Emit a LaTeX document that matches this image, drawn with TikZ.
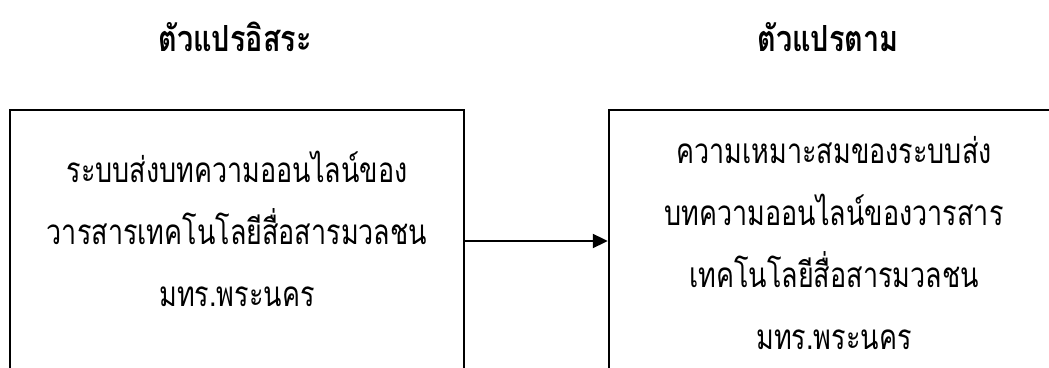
\documentclass[tikz,border=0pt]{standalone}
\usepackage{fontspec}
\newfontfamily\thaifont[Script=Thai, FakeStretch=0.77]{Loma}
\newfontfamily\thaihead[Script=Thai, FakeStretch=0.8]{Loma}
\usetikzlibrary{arrows.meta,positioning}
\tikzset{
  varbox/.style={draw, line width=2.4pt, minimum width=454pt, minimum height=262pt, inner sep=0pt},
  boxtext/.style={align=center, font=\thaifont\fontsize{35}{62}\selectfont},
  headtext/.style={font=\thaihead\bfseries\fontsize{36}{40}\selectfont},
  flow/.style={-{Triangle[length=15pt,width=14pt]}, line width=2pt}
}
\begin{document}
\begin{tikzpicture}[x=1pt, y=1pt]
  \useasboundingbox (0,0) rectangle (1049,367);
  \clip (0,0) rectangle (1049,367);
  % the two variable boxes (open towards the bottom edge)
  \node[varbox] (indep) at (237,126) {};
  \node[varbox, minimum width=450pt] (dep) at (834,126) {};
  % headings
  \node[headtext] (indephead) at (235,330) {ตัวแปรอิสระ};
  \node[headtext] (dephead) at (828,330) {ตัวแปรตาม};
  % texts in the boxes
  \node[boxtext] (indeptext) at (237,138) {ระบบส่งบทความออนไลน์ของ\\วารสารเทคโนโลยีสื่อสารมวลชน\\มทร.พระนคร};
  \node[boxtext] (deptext) at (834,124) {ความเหมาะสมของระบบส่ง\\บทความออนไลน์ของวารสาร\\เทคโนโลยีสื่อสารมวลชน\\มทร.พระนคร};
  \draw[flow] (indep) -- (dep);
\end{tikzpicture}
\end{document}
